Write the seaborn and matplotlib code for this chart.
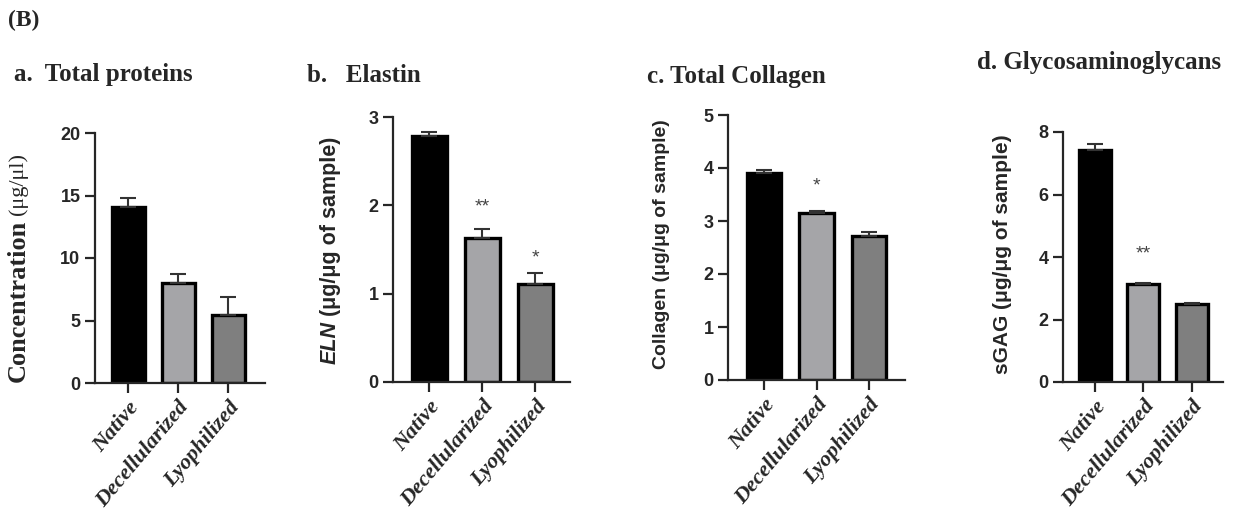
import matplotlib
matplotlib.use("Agg")
import matplotlib.pyplot as plt
import seaborn as sns
import pandas as pd

groups = ["Native", "Decellularized", "Lyophilized"]
bar_colors = ["#000000", "#A5A5A8", "#7F7F7F"]

protein = [14.1, 8.0, 5.45]
protein_err = [0.7, 0.7, 1.45]
elastin = [2.79, 1.63, 1.11]
elastin_err = [0.04, 0.1, 0.12]
collagen = [3.9, 3.15, 2.72]
collagen_err = [0.07, 0.04, 0.07]
sgag = [7.42, 3.14, 2.5]
sgag_err = [0.2, 0.04, 0.02]

elastin_stars = ["", "**", "*"]
elastin_star_y = [0, 1.98, 1.4]
collagen_stars = ["", "*", ""]
collagen_star_y = [0, 3.66, 0]
sgag_stars = ["", "**", ""]
sgag_star_y = [0, 4.1, 0]

sns.set_style("ticks")
plt.rcParams["font.family"] = ["Liberation Sans", "DejaVu Sans"]

W, H = 1251, 516
fig = plt.figure(figsize=(W / 100, H / 100), dpi=100)


def px_axes(l, t, r, b):
    return fig.add_axes([l / W, 1 - b / H, (r - l) / W, (b - t) / H])


def panel(ax, vals, errs, ymax, yticks, xlim, stars=None, star_y=None):
    df = pd.DataFrame({"group": groups, "value": vals})
    sns.barplot(data=df, x="group", y="value", hue="group", palette=bar_colors,
                width=0.66, edgecolor="black", linewidth=2.4, legend=False,
                ax=ax, zorder=2)
    xs = [p.get_x() + p.get_width() / 2 for p in ax.patches]
    ax.errorbar(xs, vals, yerr=[[0] * len(vals), errs], fmt="none",
                ecolor="#333333", elinewidth=1.5, capsize=6, capthick=1.5,
                zorder=3)
    if stars:
        for x, s, y in zip(xs, stars, star_y):
            if s:
                ax.text(x, y, s, ha="center", va="center", fontsize=14,
                        color="#444444")
    ax.set_ylim(0, ymax)
    ax.set_yticks(yticks)
    ax.set_xlim(*xlim)
    ax.set_xlabel("")
    ax.set_ylabel("")
    sns.despine(ax=ax)
    for sp in ["left", "bottom"]:
        ax.spines[sp].set_linewidth(1.6)
    ax.tick_params(axis="both", width=1.6, length=7, direction="out")
    ax.tick_params(axis="y", labelsize=13)
    for lab in ax.get_yticklabels():
        lab.set_fontweight("bold")
    ax.set_xticks(range(len(groups)))
    ax.set_xticklabels(groups, rotation=50, ha="right", va="top",
                       rotation_mode="anchor", family="Liberation Serif",
                       fontweight="bold", style="italic", fontsize=16)


ax_a = px_axes(95, 133, 265, 383)
panel(ax_a, protein, protein_err, 20, [0, 5, 10, 15, 20], (-0.66, 2.74))
ax_b = px_axes(393, 117, 570, 382)
panel(ax_b, elastin, elastin_err, 3, [0, 1, 2, 3], (-0.68, 2.66),
      elastin_stars, elastin_star_y)
ax_c = px_axes(728, 115, 905, 380)
panel(ax_c, collagen, collagen_err, 5, [0, 1, 2, 3, 4, 5], (-0.69, 2.69),
      collagen_stars, collagen_star_y)
ax_d = px_axes(1063, 132, 1223, 382)
panel(ax_d, sgag, sgag_err, 8, [0, 2, 4, 6, 8], (-0.66, 2.64),
      sgag_stars, sgag_star_y)

serif = "Liberation Serif"
fig.text(8 / W, 1 - 20 / H, "(B)", family=serif, fontweight="bold",
         fontsize=17, va="center", ha="left")
titles = [("a.  Total proteins", 14, 74), ("b.   Elastin", 307, 75),
          ("c. Total Collagen", 647, 76), ("d. Glycosaminoglycans", 977, 62)]
for txt, x, y in titles:
    fig.text(x / W, 1 - y / H, txt, family=serif, fontweight="bold",
             fontsize=18, va="center", ha="left")

renderer = fig.canvas.get_renderer()


def two_part_label(x, ybottom, first, second, kw1, kw2):
    t1 = fig.text(x / W, 1 - ybottom / H, first, rotation=90,
                  rotation_mode="anchor", ha="left", va="center", **kw1)
    bb = t1.get_window_extent(renderer)
    fig.text(x / W, (bb.y1 + 5) / H, second, rotation=90,
             rotation_mode="anchor", ha="left", va="center", **kw2)


two_part_label(18, 382, "Concentration", "(μg/μl)",
               dict(family=serif, fontweight="bold", fontsize=19),
               dict(family=serif, fontsize=16))
two_part_label(330, 364, "ELN", "(μg/μg of sample)",
               dict(fontweight="bold", style="italic", fontsize=15.5),
               dict(fontweight="bold", fontsize=15.5))
fig.text(661 / W, 1 - 244 / H, "Collagen (μg/μg of sample)", rotation=90,
         ha="center", va="center", fontweight="bold", fontsize=14)
fig.text(1002 / W, 1 - 254 / H, "sGAG (μg/μg of sample)", rotation=90,
         ha="center", va="center", fontweight="bold", fontsize=15)

fig.savefig("out.png", dpi=100)
